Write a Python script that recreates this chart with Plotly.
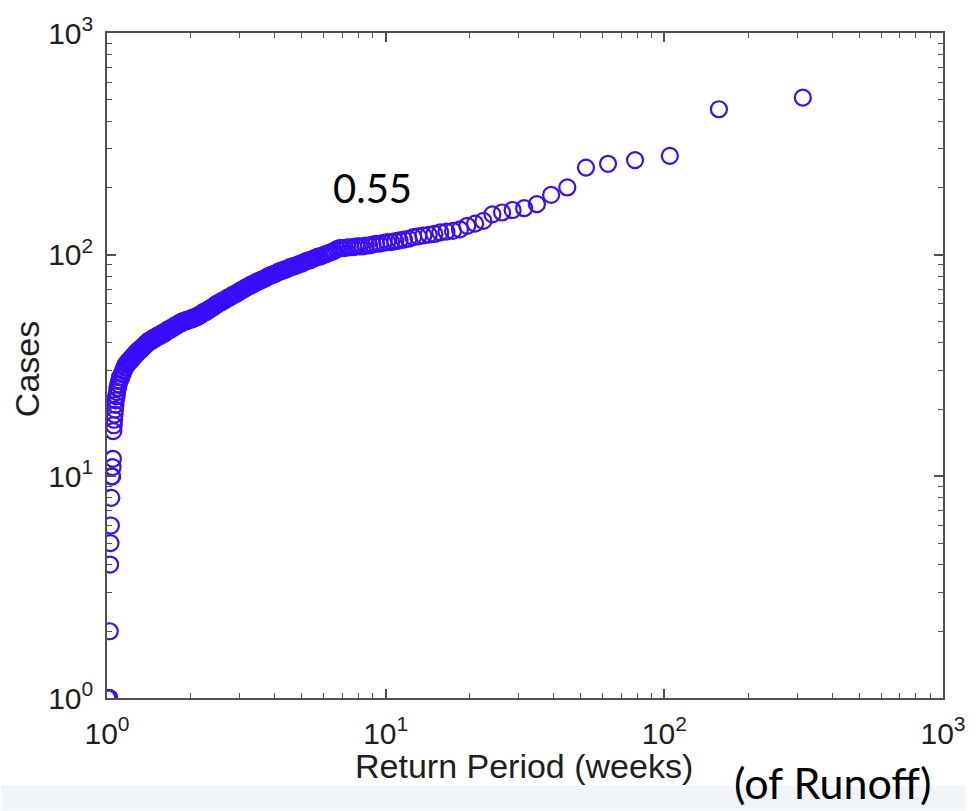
import plotly.graph_objects as go

# Weekly case counts, sorted from largest to smallest
weekly_cases_sorted = [
    511, 453, 279, 267, 257, 247, 201, 186, 169, 162, 159, 155, 152, 142, 138, 135,
    130, 128, 127, 126, 124, 123,
    122, 121, 120, 118, 117, 116, 115,
    114, 114, 113, 112, 112, 111, 110, 110, 109,
    109, 109, 108, 108, 108, 107, 107, 107, 106,
    104, 103, 102, 101, 100, 99,
    98, 98, 97, 96, 95, 94, 94, 93, 92, 91, 91, 90,
    89, 89, 88, 88, 87, 86, 86, 85, 85, 84, 84, 83, 82, 82, 81, 81, 80, 80, 79, 78, 78,
    77, 77, 76, 76, 75, 75, 74, 74, 73, 73, 72, 72, 71, 71, 70, 70, 69, 69, 68, 68,
    67, 67, 66, 66, 66, 65, 65,
    64, 64, 64, 63, 63, 62, 62, 62, 61, 61, 61, 60, 60, 60, 59, 59,
    58, 58, 58, 57, 57, 57, 56, 56, 56, 55, 55, 55, 55, 54, 54, 54, 53, 53, 53,
    53, 52, 52, 52, 52, 52, 52, 51, 51, 51, 51, 51, 51, 51, 50, 50, 50, 50, 50, 50, 50, 49,
    49, 49, 49, 49, 48, 48, 48, 48, 48, 47, 47, 47, 47, 47, 46, 46, 46, 46, 46, 46, 45, 45, 45, 45,
    45, 44, 44, 44, 44, 44, 44, 43, 43, 43, 43, 43, 43, 43, 42, 42, 42, 42, 42, 42, 42,
    41, 41, 41, 41, 41, 41, 41,
    40, 40, 40, 40, 40, 39, 39, 39, 39, 39, 38, 38, 38, 38, 38, 37, 37, 37, 37, 37, 37,
    36, 36, 36, 36, 36,
    35, 35, 35, 35, 35, 34, 34, 34, 34, 34, 33, 33, 33, 33, 33, 33, 32, 32, 32, 32, 32,
    31, 31, 31, 30, 30, 30, 29, 29, 29, 28, 28, 28, 28, 27, 27,
    26, 26, 25, 25, 24, 23, 23, 22,
    21, 20, 19, 18, 17, 16,
    12, 11, 10, 10, 8, 6, 5, 4, 2,
    1, 1, 1, 1, 1, 1,
]

# Return period of each week (Weibull plotting position: (n + 1) / rank)
n_weeks = len(weekly_cases_sorted)
ranks = list(range(1, n_weeks + 1))
return_period_weeks = [(n_weeks + 1) / r for r in ranks]

decade_vals = [1, 10, 100, 1000]
decade_text = ["10<sup>0</sup>", "10<sup>1</sup>", "10<sup>2</sup>", "10<sup>3</sup>"]
minor_vals = [m * d for d in (1, 10, 100) for m in range(2, 10)]

x_title = "Return Period (weeks)"
y_title = "Cases"
exponent_note = "0.55"
variable_note = "(of Runoff)"

W, H = 978, 811
L, R, T, B = 107, 23, 29, 113
pw, ph = W - L - R, H - T - B


def px_to_paper(px, py):
    return (px - L) / pw, (H - B - py) / ph


axis_color = "#505050"
label_font = dict(family="Liberation Sans, Arial, sans-serif", size=30, color="#1e1e1e")
marker_color = "#3a0dff"

fig = go.Figure()
fig.add_trace(go.Scatter(
    x=return_period_weeks,
    y=weekly_cases_sorted,
    mode="markers",
    marker=dict(symbol="circle-open", size=16, color=marker_color,
                line=dict(width=2.2, color=marker_color)),
    showlegend=False,
    hoverinfo="x+y",
))

common_axis = dict(
    type="log",
    range=[0, 3],
    tickvals=decade_vals,
    ticktext=decade_text,
    ticks="inside",
    ticklen=9,
    tickwidth=1.5,
    tickcolor=axis_color,
    showline=True,
    linecolor=axis_color,
    linewidth=1.6,
    mirror="ticks",
    showgrid=False,
    zeroline=False,
    tickfont=label_font,
    minor=dict(tickvals=minor_vals, ticks="inside", ticklen=5, tickwidth=1.3,
               tickcolor=axis_color, showgrid=False),
)

fig.update_xaxes(**common_axis, ticklabelstandoff=8)
fig.update_yaxes(**common_axis, ticklabelstandoff=6)

# Faint slide backdrop along the bottom edge
bx0, by0 = px_to_paper(0, H)
bx1, by1 = px_to_paper(W, 786)
fig.add_shape(type="rect", xref="paper", yref="paper", x0=bx0, y0=by0, x1=bx1, y1=by1,
              fillcolor="#f1f4f8", line=dict(width=0), layer="below")

title_font = dict(family="Liberation Sans, Arial, sans-serif", size=34, color="#1e1e1e")
ax, ay = px_to_paper(530, 766)
fig.add_annotation(x=ax, y=ay, xref="paper", yref="paper", text=x_title, showarrow=False,
                   font=title_font, xanchor="center", yanchor="middle")
ax, ay = px_to_paper(26, 367)
fig.add_annotation(x=ax, y=ay, xref="paper", yref="paper", text=y_title, showarrow=False,
                   font=title_font, textangle=-90, xanchor="center", yanchor="middle")

note_family = "Lato, Open Sans, sans-serif"
ax, ay = px_to_paper(376, 185)
fig.add_annotation(x=ax, y=ay, xref="paper", yref="paper", text=exponent_note, showarrow=False,
                   font=dict(family=note_family, size=40, color="#000000"),
                   xanchor="center", yanchor="middle")
ax, ay = px_to_paper(843, 783)
fig.add_annotation(x=ax, y=ay, xref="paper", yref="paper", text=variable_note, showarrow=False,
                   font=dict(family=note_family, size=43, color="#000000"),
                   xanchor="center", yanchor="middle")

fig.update_layout(
    width=W, height=H, autosize=False,
    margin=dict(l=L, r=R, t=T, b=B, pad=0),
    paper_bgcolor="white",
    plot_bgcolor="white",
)

fig.write_html("out.html")
